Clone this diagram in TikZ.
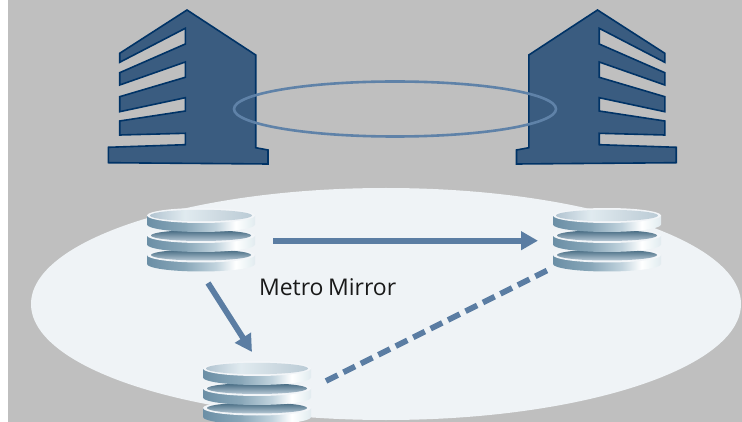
\documentclass[tikz,border=0pt]{standalone}
\usepackage{fontspec}
\setmainfont{Open Sans}
\usepackage{tikz}
\usetikzlibrary{arrows.meta}
\usetikzlibrary{positioning}
\definecolor{wallgray}{HTML}{BFBFBF}
\definecolor{zonefill}{HTML}{EFF3F6}
\definecolor{towerfill}{HTML}{3A5C80}
\definecolor{towerline}{HTML}{003366}
\definecolor{linkblue}{HTML}{5B7DA3}
\definecolor{ringblue}{HTML}{5F82A8}
\pgfdeclarehorizontalshading{diskside}{100bp}{
 rgb(0bp)=(0.42,0.56,0.65);rgb(25bp)=(0.42,0.56,0.65);rgb(42bp)=(0.53,0.65,0.72);
 rgb(57bp)=(0.76,0.83,0.87);rgb(66bp)=(1,1,1);rgb(72bp)=(0.92,0.95,0.96);
 rgb(100bp)=(0.58,0.69,0.75)}
\pgfdeclarehorizontalshading{disklid}{100bp}{
 rgb(0bp)=(0.70,0.77,0.82);rgb(25bp)=(0.70,0.77,0.82);rgb(42bp)=(0.88,0.92,0.94);
 rgb(60bp)=(0.80,0.85,0.88);rgb(100bp)=(0.62,0.71,0.77)}
\pgfdeclareverticalshading{diskpit}{100bp}{rgb(0bp)=(0.72,0.79,0.84);rgb(25bp)=(0.72,0.79,0.84);
 rgb(70bp)=(0.30,0.44,0.53);rgb(100bp)=(0.30,0.44,0.53)}
\tikzset{
 tower/.pic={
  \draw [fill=towerfill,draw=towerline,line width=1.6pt,line join=miter]
   (0,0) -- (68.7,45) -- (68.7,137.7) -- (81,140) -- (81,154) -- (-78.7,152.7)
   -- (-78.7,137.3) -- (-1.7,134.7) -- (-1.7,123.3) -- (-67.3,125) -- (-67.3,111)
   -- (-1.7,101) -- (-1.7,87.7) -- (-67.3,101.7) -- (-67.3,86.7) -- (-1.7,67.3)
   -- (-1.7,52) -- (-67.3,75) -- (-67.3,62.7) -- (-1.7,34) -- (-1.7,18.3)
   -- (-67.3,52.3) -- (-67.3,43.3) -- cycle;
 },
 diskbody/.pic={
  \path [shading=diskside] (-54,0) -- (-54,9)
   arc [start angle=180,end angle=0,x radius=54,y radius=7.5] -- (54,0) -- cycle;
  \fill [white!92!ringblue] (0,0) ellipse [x radius=54,y radius=7.5];
 },
 diskstack/.pic={
  \pic at (0,16) {diskbody};
  \path [shading=diskpit] (0,16) ellipse [x radius=50,y radius=5.5];
  \pic at (0,-3.5) {diskbody};
  \path [shading=diskpit] (0,-3.5) ellipse [x radius=50,y radius=5.5];
  \pic at (0,-23.5) {diskbody};
  \path [shading=disklid] (0,-23.5) ellipse [x radius=51,y radius=5.7];
 },
 every node/.style={inner sep=0pt,outer sep=0pt},
 slot/.style={minimum width=108pt,minimum height=62pt},
 link/.style={draw=linkblue,line width=5.8pt},
 linktip/.style={-{Triangle[length=17pt,width=18pt]}}
}
\begin{document}
\begin{tikzpicture}[x=1pt,y=-1pt]
 \useasboundingbox (0,0) rectangle (742,422);
 \fill [wallgray] (8,0) rectangle (742,422);
 \fill [zonefill] (386,304) ellipse [x radius=355,y radius=116];
 \pic at (187,10) {tower};
 \pic [xscale=-1] at (597.5,10) {tower};
 \draw [ringblue,line width=2.6pt] (395,109) ellipse [x radius=161,y radius=27.5];
 \node [slot] at (201,239) (primary) {};
 \node [slot,right=298pt of primary] (secondary) {};
 \node [slot,below=91pt of primary,xshift=56pt] (tertiary) {};
 \pic at (primary) {diskstack};
 \pic at (secondary) {diskstack};
 \pic at (tertiary) {diskstack};
 \node [right=4pt of primary.east,yshift=-48pt,text=black!90,font=\fontsize{23}{28}\selectfont] (label) {Metro\hspace{-1.5pt} Mirror};
 \draw [link,linktip] ([shift={(18,1.7)}]primary.east) -- ([shift={(-15,1.7)}]secondary.west);
 \draw [link,linktip] ([shift={(7,13)}]primary.south) -- ([shift={(-5,-9)}]tertiary.north);
 \draw [link,dash pattern=on 13pt off 6.5pt] ([shift={(15,-11)}]tertiary.east) -- ([shift={(-5,0)}]secondary.south west);
\end{tikzpicture}
\end{document}
